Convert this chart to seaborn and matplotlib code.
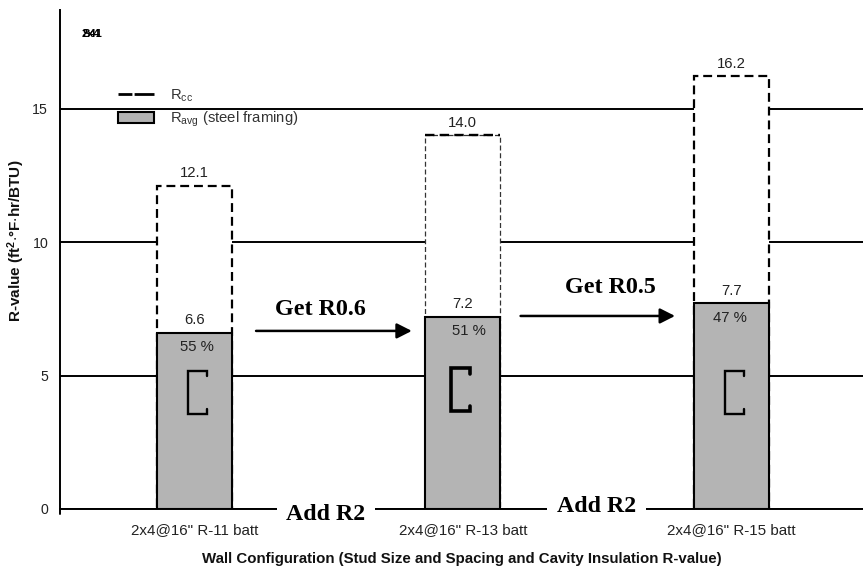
import matplotlib
matplotlib.use("Agg")
import matplotlib.pyplot as plt
from matplotlib.lines import Line2D
from matplotlib.patches import Patch
import pandas as pd
import seaborn as sns

categories = ['2x4@16" R-11 batt', '2x4@16" R-13 batt', '2x4@16" R-15 batt']
r_cc = [12.1, 14.0, 16.2]
r_avg = [6.6, 7.2, 7.7]
percent = ["55 %", "51 %", "47 %"]
y_ticks = [0, 5, 10, 15]
added_labels = ["Add R2", "Add R2"]
gain_labels = ["Get R0.6", "Get R0.5"]

sns.set_theme(style="white")
plt.rcParams["font.family"] = ["Liberation Sans", "DejaVu Sans"]
plt.rcParams["mathtext.default"] = "regular"

W, H = 863, 569
fig = plt.figure(figsize=(W / 100, H / 100), dpi=100)
ax = fig.add_axes([60 / W, (H - 509) / H, (W - 60) / W, 499 / H])

df = pd.DataFrame({"config": categories, "cc": r_cc, "avg": r_avg})
sns.barplot(data=df, x="config", y="cc", ax=ax, color="white", width=0.28,
            saturation=1, edgecolor="black", linewidth=1.6, linestyle=(0, (4, 2.2)),
            zorder=3)
n_cc = len(ax.patches)
sns.barplot(data=df, x="config", y="avg", ax=ax, color="#b4b4b4", width=0.28,
            saturation=1, edgecolor="black", linewidth=1.5, zorder=4)
cc_bars = ax.patches[:n_cc]
avg_bars = ax.patches[n_cc:]
cc_bars[1].set_linewidth(0.9)
cc_bars[1].set_edgecolor("#333333")
ax.plot([1 - 0.14, 1 + 0.14], [r_cc[1], r_cc[1]], color="black", lw=1.7,
        linestyle=(0, (4, 2.2)), zorder=5)

ax.set_xlim(-0.5, 2.49)
ax.set_ylim(0, 499 / 26.7)
ax.set_yticks(y_ticks)
ax.yaxis.grid(True, color="black", linewidth=1.4, zorder=1)
ax.set_axisbelow(True)
for s in ("top", "right"):
    ax.spines[s].set_visible(False)
for s in ("left", "bottom"):
    ax.spines[s].set_linewidth(1.4)
    ax.spines[s].set_color("black")
ax.plot([0, 0], [0, -5 / 499], transform=ax.transAxes, color="black", lw=1.4, clip_on=False)
ax.tick_params(axis="y", length=3.5, width=1.4, color="black", labelsize=10.2,
               labelcolor="#222222", pad=5)
ax.tick_params(axis="x", length=0, labelsize=10.9, colors="#222222", pad=10)
ax.set_xlabel("Wall Configuration (Stud Size and Spacing and Cavity Insulation R-value)",
              fontsize=10.8, fontweight="bold", color="#111111")
ax.xaxis.set_label_coords((461.5 - 60) / (W - 60), -43 / 499)
ax.set_ylabel("R-value (ft$^{2}$$\\cdot$$\\degree$F$\\cdot$hr/BTU)", fontsize=11,
              fontweight="bold", color="#111111")
ax.yaxis.set_label_coords(-33 / (W - 60), 0.537)

ax.bar_label(ax.containers[0], fmt="%.1f", padding=4, fontsize=10.7, color="#222222", zorder=6)
ax.bar_label(ax.containers[1], fmt="%.1f", padding=4, fontsize=10.7, color="#222222", zorder=6)

pct_dx = [3, 6, -1]
for i, (bar, label) in enumerate(zip(avg_bars, percent)):
    ax.annotate(label, (i, bar.get_height()), xytext=(pct_dx[i] * 0.72, -10.5),
                textcoords="offset points", ha="center", va="center",
                fontsize=10.7, color="#222222", zorder=6)

# C-shaped stud glyphs inside the bars, with return lips
stud_x = [0.046, 0.046, -0.025, -0.025, 0.046, 0.046]
stud_y = [4.97, 5.17, 5.17, 3.56, 3.56, 3.76]
stud_shift = [0, -0.018, 0.0]
stud_lw = [1.7, 2.6, 1.7]
stud_dy = [0, 0.1, 0]
for i in range(len(categories)):
    ax.plot([i + stud_shift[i] + v for v in stud_x], [v + stud_dy[i] for v in stud_y],
            color="black", lw=stud_lw[i], solid_joinstyle="miter", zorder=6)

# "Add R2" labels that interrupt the baseline
for x, y, t in zip([0.49, 1.497], [-0.19, 0.08], added_labels):
    ax.text(x, y, t, family="Liberation Serif", fontweight="bold", fontsize=17.2,
            ha="center", va="center", color="black", zorder=7, clip_on=False,
            bbox=dict(facecolor="white", edgecolor="none", pad=7))

# "Get" labels and arrows
for x, y, t in zip([0.471, 1.55], [7.47, 8.31], gain_labels):
    ax.text(x, y, t, family="Liberation Serif", fontweight="bold", fontsize=17.4,
            ha="center", va="center", color="black", zorder=7)
arrow_from = [(0.23, 6.67), (1.215, 7.23)]
arrow_to = [(0.81, 6.67), (1.79, 7.23)]
for a, b in zip(arrow_from, arrow_to):
    ax.annotate("", xy=b, xytext=a, zorder=7,
                arrowprops=dict(arrowstyle="-|>,head_length=0.75,head_width=0.38",
                                color="black", lw=1.8, shrinkA=0, shrinkB=0))

handles = [Line2D([], [], color="black", lw=2, linestyle=(0, (5, 0.8, 14, 0.8, 5, 0))),
           Patch(facecolor="#b4b4b4", edgecolor="black", linewidth=1.5)]
leg = ax.legend(handles, ["R$_{cc}$", "R$_{avg}$ (steel framing)"], frameon=False, fontsize=10.7,
                loc="upper left", bbox_to_anchor=(53.5 / (W - 60), 1 - 73 / 499),
                handlelength=2.42, handleheight=0.8, labelspacing=0.4, handletextpad=1.07,
                labelcolor="#333333", borderpad=0.3, borderaxespad=0)
leg.set_zorder(8)

# overprinted stray label in the top-left corner
for dx, t in zip([0, 0.6], ["2x4", "S41"]):
    ax.annotate(t, (0, 1), xycoords="axes fraction", xytext=((22 + dx) * 0.72, -24 * 0.72),
                textcoords="offset points", fontsize=8, fontweight="bold", color="black",
                va="center", ha="left")

fig.savefig("out.png", dpi=100, facecolor="white")
